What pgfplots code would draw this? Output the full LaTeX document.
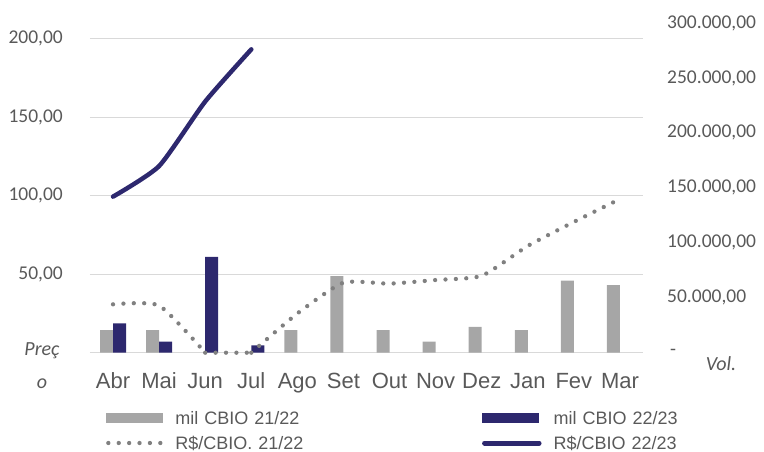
\documentclass[border=0pt]{standalone}
\usepackage{pgfplots}
\pgfplotsset{compat=1.18}
\usepackage{fontspec}
\setmainfont{Carlito}
\newfontfamily\lib{Liberation Sans}
\definecolor{navy}{RGB}{45,40,110}
\definecolor{barg}{RGB}{166,166,166}
\definecolor{dotg}{RGB}{128,128,128}
\definecolor{gridc}{RGB}{217,217,217}
\definecolor{txt}{RGB}{89,89,89}
\tikzset{dotline/.style={dotg, line width=4.3pt, line cap=round, dash pattern=on 0pt off 10.4pt}}
\pgfplotsset{
  base/.style={width=553pt,height=329.7pt,scale only axis,xmin=-0.5,xmax=11.5,
    axis line style={draw=none},major tick length=0pt,at={(0pt,0pt)},anchor=south west,
    /pgf/number format/assume math mode=true, clip=false},
}
\begin{document}
\begin{tikzpicture}
\useasboundingbox (-90pt,-99.3pt) rectangle (674pt,352.7pt);
% axis 1: price scale, grid, x labels
\begin{axis}[base, ymin=0, ymax=210, ytick={0,50,100,150,200},
  yticklabels={{},{50,00},{100,00},{150,00},{200,00}},
  ymajorgrids, grid style={draw=gridc, line width=1.3pt},
  xtick={0,...,11}, xticklabels={Abr,Mai,Jun,Jul,Ago,Set,Out,Nov,Dez,Jan,Fev,Mar},
  xticklabel style={font=\lib\fontsize{22}{22}\selectfont, text=txt, anchor=base, inner sep=0pt, yshift=-35.6pt},
  yticklabel style={font=\fontsize{19.5}{19.5}\selectfont, text=txt, anchor=east, inner sep=0pt, xshift=-27pt},
  ylabel={Preç\\o},
  ylabel style={rotate=-90, at={(axis description cs:-0.0868,-0.0403)}, anchor=center, align=center, font=\itshape\fontsize{20}{33}\selectfont, text=txt},
]
\addplot[draw=none] coordinates {(0,0)};
\end{axis}
% axis 2: volume scale, bars, legend
\begin{axis}[base, ymin=0, ymax=300000, scaled y ticks=false, xtick=\empty,
  ytick={0,50000,100000,150000,200000,250000,300000},
  yticklabels={{\hspace*{3pt}-},{50.000,00},{100.000,00},{150.000,00},{200.000,00},{250.000,00},{300.000,00}},
  yticklabel pos=right,
  yticklabel style={font=\fontsize{19.5}{19.5}\selectfont, text=txt, anchor=west, inner sep=0pt, xshift=24pt},
  ybar=0pt, bar width=13pt,
  ylabel={Vol.},
  ylabel style={rotate=-90, at={(axis description cs:1.1410,-0.0343)}, anchor=center, font=\itshape\fontsize{20}{20}\selectfont, text=txt},
  legend columns=2, legend cell align=left,
  legend style={draw=none, fill=none, inner sep=0pt, at={(axis description cs:0.0289,-0.236)}, anchor=west,
    font=\lib\fontsize{18}{18}\selectfont, text=txt, row sep=12.1pt,
    nodes={inner sep=0pt, text height=12.9pt, text depth=0pt, text width=130pt, anchor=west},
    /tikz/every odd column/.style={column sep=12pt},
    /tikz/every even column/.style={column sep=176.7pt}},
]
\addplot[fill=barg, draw=none, legend image code/.code={\fill[barg] (0pt,-4.65pt) rectangle (57pt,4.65pt);}]
  coordinates {(0,20500) (1,20500) (4,20500) (5,69700) (6,20500) (7,10000) (8,23600) (9,20500) (10,65500) (11,61500)};
\addlegendentry{mil CBIO 21/22}
\addplot[fill=navy, draw=none, legend image code/.code={\fill[navy] (0pt,-4.65pt) rectangle (57pt,4.65pt);}]
  coordinates {(0,26700) (1,10000) (2,87300) (3,6700)};
\addlegendentry{mil CBIO 22/23}
\addlegendimage{legend image code/.code={\draw[dotline] (2.1pt,0pt) -- (55pt,0pt);}}
\addlegendentry{R\$/CBIO. 21/22}
\addlegendimage{legend image code/.code={\draw[navy, line width=5pt, line cap=round] (2.5pt,0pt) -- (57pt,0pt);}}
\addlegendentry{R\$/CBIO 22/23}
\end{axis}
% axis 3: price scale, lines
\begin{axis}[base, ymin=0, ymax=210, hide axis]
\addplot[dotline, smooth, tension=0.35]
  coordinates {(0,30.8) (1,30) (2,0)};
\addplot[dotline]
  coordinates {(2,0) (3,0)};
\addplot[dotline, smooth, tension=0.35]
  coordinates {(3,0) (4,25) (5,44.6) (6,44) (7,46.3) (8,49) (9,68) (10,83.3) (11,97.9)};
\addplot[navy, line width=4.5pt, line cap=round, line join=round, smooth, tension=0.35]
  coordinates {(0,99.4) (1,118.9) (2,160) (3,193.2)};
\end{axis}
\end{tikzpicture}
\end{document}
